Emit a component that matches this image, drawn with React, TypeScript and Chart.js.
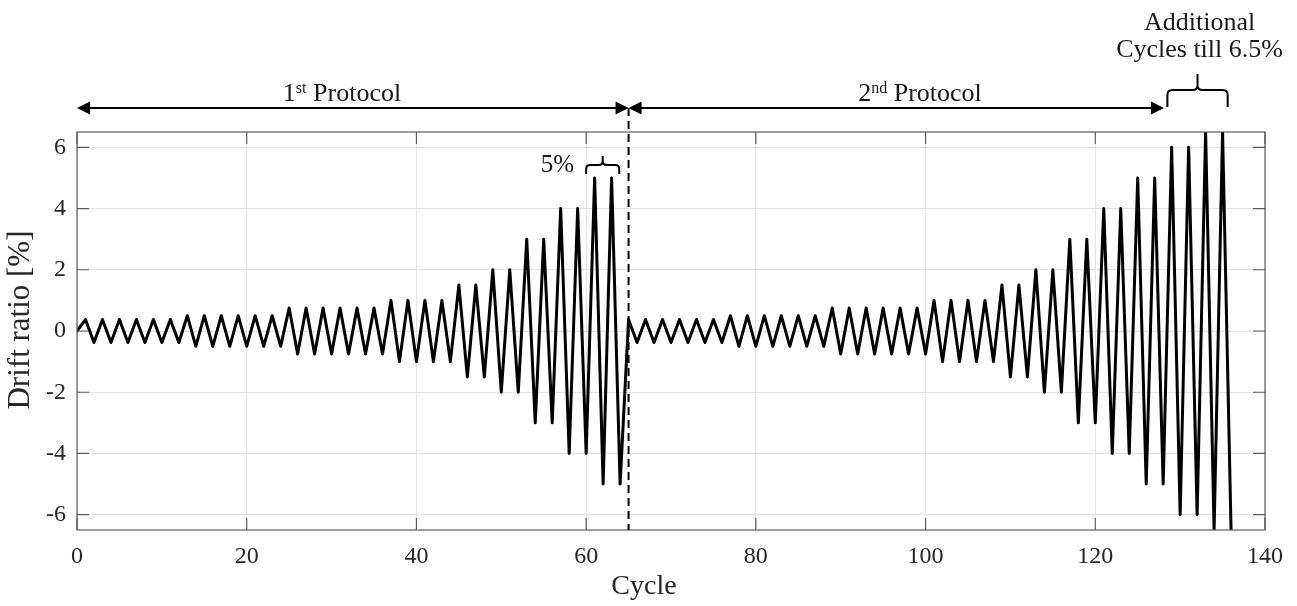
import { useEffect, useRef } from "react";
import { Chart, registerables } from "chart.js";

Chart.register(...registerables);

// Drift amplitude [%] of every cycle
const protocol1Amplitudes = [
  0.375, 0.375, 0.375, 0.375, 0.375, 0.375,
  0.5, 0.5, 0.5, 0.5, 0.5, 0.5,
  0.75, 0.75, 0.75, 0.75, 0.75, 0.75,
  1, 1, 1, 1,
  1.5, 1.5,
  2, 2,
  3, 3,
  4, 4,
  5, 5,
];
const protocol2Amplitudes = [
  0.375, 0.375, 0.375, 0.375, 0.375, 0.375,
  0.5, 0.5, 0.5, 0.5, 0.5, 0.5,
  0.75, 0.75, 0.75, 0.75, 0.75, 0.75,
  1, 1, 1, 1,
  1.5, 1.5,
  2, 2,
  3, 3,
  4, 4,
  5, 5,
  6, 6,
  6.5, 6.5,
];
const startValue = 0;
const xTicks = [0, 20, 40, 60, 80, 100, 120, 140];
const yTicks = [-6, -4, -2, 0, 2, 4, 6];

// annotation anchors in cycle units
const protocolBoundary = 65;
const protocol1Span = [0, 65];
const protocol2Span = [65, 128.1];
const additionalBraceSpan = [128.5, 135.6];
const fivePercentBraceSpan = [60, 63.9];

const SERIF = "'Liberation Serif', 'Times New Roman', serif";
const INK = "#262626";

function buildSeries() {
  const pts: { x: number; y: number }[] = [{ x: 0, y: startValue }];
  let x = 1;
  for (const a of [...protocol1Amplitudes, ...protocol2Amplitudes]) {
    pts.push({ x, y: a });
    pts.push({ x: x + 1, y: -a });
    x += 2;
  }
  return pts;
}

function drawSupText(
  ctx: CanvasRenderingContext2D,
  parts: [string, boolean][],
  cx: number,
  baseline: number,
  size: number
) {
  const supSize = Math.round(size * 0.62);
  let total = 0;
  for (const [t, sup] of parts) {
    ctx.font = `${sup ? supSize : size}px ${SERIF}`;
    total += ctx.measureText(t).width;
  }
  let x = cx - total / 2;
  ctx.textAlign = "left";
  ctx.textBaseline = "alphabetic";
  for (const [t, sup] of parts) {
    ctx.font = `${sup ? supSize : size}px ${SERIF}`;
    ctx.fillText(t, x, baseline - (sup ? size * 0.3 : 0));
    x += ctx.measureText(t).width;
  }
}

function drawBrace(
  ctx: CanvasRenderingContext2D,
  x1: number,
  x2: number,
  yTop: number,
  yBottom: number,
  yNub: number,
  r: number
) {
  const xm = (x1 + x2) / 2;
  ctx.beginPath();
  ctx.moveTo(x1, yBottom);
  ctx.lineTo(x1, yTop + r);
  ctx.quadraticCurveTo(x1, yTop, x1 + r, yTop);
  ctx.lineTo(xm - r, yTop);
  ctx.quadraticCurveTo(xm, yTop, xm, yTop - r);
  ctx.lineTo(xm, yNub);
  ctx.moveTo(xm, yTop - r);
  ctx.quadraticCurveTo(xm, yTop, xm + r, yTop);
  ctx.lineTo(x2 - r, yTop);
  ctx.quadraticCurveTo(x2, yTop, x2, yTop + r);
  ctx.lineTo(x2, yBottom);
  ctx.stroke();
}

function arrowHead(ctx: CanvasRenderingContext2D, x: number, y: number, dir: number) {
  ctx.beginPath();
  ctx.moveTo(x, y);
  ctx.lineTo(x - dir * 13, y - 6.5);
  ctx.lineTo(x - dir * 13, y + 6.5);
  ctx.closePath();
  ctx.fill();
}

const annotationPlugin = {
  id: "annotations",
  afterDraw(chart: any) {
    const { ctx, chartArea, scales } = chart;
    const xs = scales.x;
    const ys = scales.y;
    const { left, right, top, bottom } = chartArea;
    ctx.save();

    // box and inward ticks
    ctx.strokeStyle = "#5c5c5c";
    ctx.lineWidth = 1.2;
    ctx.strokeRect(left, top, right - left, bottom - top);
    ctx.beginPath();
    for (const v of xTicks) {
      const px = xs.getPixelForValue(v);
      ctx.moveTo(px, bottom);
      ctx.lineTo(px, bottom - 12);
      ctx.moveTo(px, top);
      ctx.lineTo(px, top + 12);
    }
    for (const v of yTicks) {
      const py = ys.getPixelForValue(v);
      ctx.moveTo(left, py);
      ctx.lineTo(left + 12, py);
      ctx.moveTo(right, py);
      ctx.lineTo(right - 12, py);
    }
    ctx.stroke();

    // axis titles
    ctx.fillStyle = INK;
    ctx.textAlign = "center";
    ctx.textBaseline = "middle";
    ctx.font = `28px ${SERIF}`;
    ctx.fillText("Cycle", 644, 587);
    ctx.save();
    ctx.translate(21, 320);
    ctx.rotate(-Math.PI / 2);
    ctx.font = `31px ${SERIF}`;
    ctx.fillText("Drift ratio [%]", 0, 0);
    ctx.restore();

    const arrowY = top - 24;
    const bx = xs.getPixelForValue(protocolBoundary);

    // dashed boundary
    ctx.strokeStyle = "#000";
    ctx.lineWidth = 2;
    ctx.setLineDash([8, 5]);
    ctx.beginPath();
    ctx.moveTo(bx, arrowY);
    ctx.lineTo(bx, bottom);
    ctx.stroke();
    ctx.setLineDash([]);

    // arrows
    ctx.fillStyle = "#000";
    ctx.lineWidth = 2;
    const spans = [protocol1Span, protocol2Span];
    for (const [a, b] of spans) {
      const pa = xs.getPixelForValue(a);
      const pb = xs.getPixelForValue(b);
      ctx.beginPath();
      ctx.moveTo(pa + 6, arrowY);
      ctx.lineTo(pb - 6, arrowY);
      ctx.stroke();
      arrowHead(ctx, pa, arrowY, -1);
      arrowHead(ctx, pb, arrowY, 1);
    }

    ctx.fillStyle = "#1a1a1a";
    drawSupText(ctx, [["1", false], ["st", true], [" Protocol", false]], 342, top - 31, 26);
    drawSupText(ctx, [["2", false], ["nd", true], [" Protocol", false]], 920, top - 31, 26);

    // additional cycles brace
    ctx.strokeStyle = "#000";
    ctx.lineWidth = 2;
    const a1 = xs.getPixelForValue(additionalBraceSpan[0]);
    const a2 = xs.getPixelForValue(additionalBraceSpan[1]);
    drawBrace(ctx, a1, a2, top - 42, top - 25, top - 58, 5);
    ctx.font = `26px ${SERIF}`;
    ctx.textAlign = "center";
    ctx.textBaseline = "alphabetic";
    ctx.fillText("Additional", (a1 + a2) / 2 + 2, 30);
    ctx.fillText("Cycles till 6.5%", (a1 + a2) / 2 + 2, 57);

    // 5% brace
    const f1 = xs.getPixelForValue(fivePercentBraceSpan[0]);
    const f2 = xs.getPixelForValue(fivePercentBraceSpan[1]);
    drawBrace(ctx, f1, f2, top + 33, top + 42, top + 24, 4);
    ctx.font = `25px ${SERIF}`;
    ctx.textAlign = "right";
    ctx.fillText("5%", f1 - 12, top + 40);

    ctx.restore();
  },
};

export default function App() {
  const ref = useRef<HTMLCanvasElement | null>(null);
  useEffect(() => {
    if (!ref.current) return;
    const chart = new Chart(ref.current, {
      type: "line",
      data: {
        datasets: [
          {
            data: buildSeries(),
            borderColor: "#000",
            borderWidth: 3,
            pointRadius: 0,
            tension: 0,
            fill: false,
            borderJoinStyle: "round",
            borderCapStyle: "round",
          },
        ],
      },
      options: {
        animation: false,
        responsive: false,
        layout: { padding: { top: 132, right: 32, bottom: 0, left: 0 } },
        plugins: { legend: { display: false }, tooltip: { enabled: false } },
        scales: {
          x: {
            type: "linear",
            min: 0,
            max: 140,
            afterBuildTicks: (s: any) => {
              s.ticks = xTicks.map((v) => ({ value: v }));
            },
            afterFit: (s: any) => {
              s.height = 76;
            },
            grid: { color: "#e3e3e3", lineWidth: 1, drawTicks: false },
            border: { display: false },
            ticks: {
              padding: 12,
              color: INK,
              font: { family: SERIF, size: 24 },
              maxRotation: 0,
            },
          },
          y: {
            type: "linear",
            min: -6.5,
            max: 6.5,
            afterBuildTicks: (s: any) => {
              s.ticks = yTicks.map((v) => ({ value: v }));
            },
            afterFit: (s: any) => {
              s.width = 77;
            },
            grid: { color: "#e3e3e3", lineWidth: 1, drawTicks: false },
            border: { display: false },
            ticks: {
              padding: 11,
              color: INK,
              font: { family: SERIF, size: 24 },
            },
          },
        },
      },
      plugins: [annotationPlugin],
    });
    return () => chart.destroy();
  }, []);
  return (
    <div style={{ position: "absolute", left: 0, top: 0, width: 1297, height: 606, background: "#fff" }}>
      <canvas ref={ref} width={1297} height={606} />
    </div>
  );
}
